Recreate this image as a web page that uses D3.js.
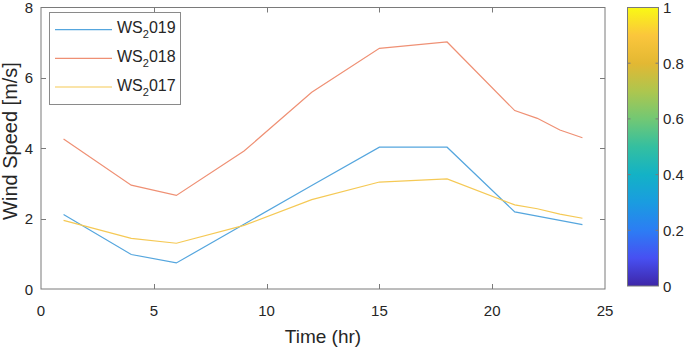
<!DOCTYPE html>
<html><head><meta charset="utf-8">
<script src="https://cdn.jsdelivr.net/npm/d3@7"></script>
<style>
html,body{margin:0;padding:0;background:#fff;}
svg{display:block;font-family:"Liberation Sans",Arial,sans-serif;}
</style></head>
<body><svg id="c" width="688" height="349"></svg>
<script>
const hours = [1,4,6,9,12,15,18,21,22,23,24];
const ws2019 = [2.12,0.98,0.74,1.84,2.94,4.03,4.03,2.19,2.07,1.95,1.83];
const ws2018 = [4.26,2.95,2.66,3.92,5.59,6.84,7.02,5.07,4.85,4.52,4.30];
const ws2017 = [1.95,1.44,1.30,1.81,2.54,3.04,3.13,2.39,2.28,2.13,2.01];
const seriesNames = ["2019","2018","2017"];
const seriesColors = ["#55A6DE","#EF9074","#F5C955"];
const xTicks = [0,5,10,15,20,25];
const yTicks = [0,2,4,6,8];
const cbTicks = [0,0.2,0.4,0.6,0.8,1];
const parulaStops = ["#3E26A8","#4750F2","#2C7DF4","#1A9CE0","#13B2C6","#34BFA0","#72C874","#AEC64E","#E3B833","#FBC63C","#F9F914"];

const svg = d3.select("#c");
const L=41, R=605, T=7.5, B=289;
const x = d3.scaleLinear().domain([0,25]).range([L,R]);
const y = d3.scaleLinear().domain([0,8]).range([B,T]);
const axisCol="#7a7a7a", textCol="#262626";

// box
svg.append("rect").attr("x",L).attr("y",T).attr("width",R-L).attr("height",B-T)
  .attr("fill","none").attr("stroke",axisCol).attr("stroke-width",1);

// ticks
const tl=5;
xTicks.forEach(t=>{
  const px=Math.round(x(t))+0.5;
  if(t>0 && t<25){
    svg.append("line").attr("x1",px).attr("x2",px).attr("y1",B).attr("y2",B-tl).attr("stroke",axisCol);
    svg.append("line").attr("x1",px).attr("x2",px).attr("y1",T).attr("y2",T+tl).attr("stroke",axisCol);
  }
  svg.append("text").attr("x",x(t)).attr("y",315.5).attr("text-anchor","middle")
    .attr("font-size",15).attr("fill",textCol).text(t);
});
yTicks.forEach(t=>{
  const py=Math.round(y(t))+0.5;
  if(t>0 && t<8){
    svg.append("line").attr("x1",L).attr("x2",L+tl).attr("y1",py).attr("y2",py).attr("stroke",axisCol);
    svg.append("line").attr("x1",R).attr("x2",R-tl).attr("y1",py).attr("y2",py).attr("stroke",axisCol);
  }
  svg.append("text").attr("x",33).attr("y",y(t)+5.5).attr("text-anchor","end")
    .attr("font-size",15).attr("fill",textCol).text(t);
});

// labels
svg.append("text").attr("x",(L+R)/2).attr("y",343).attr("text-anchor","middle")
  .attr("font-size",19).attr("fill",textCol).text("Time (hr)");
svg.append("text").attr("transform","translate(17,141) rotate(-90)").attr("text-anchor","middle")
  .attr("font-size",20).attr("fill",textCol).text("Wind Speed [m/s]");

// lines
const seriesData=[ws2019,ws2018,ws2017];
const line=d3.line().x((d,i)=>x(hours[i])).y(d=>y(d));
seriesData.forEach((s,k)=>{
  svg.append("path").attr("d",line(s)).attr("fill","none")
    .attr("stroke",seriesColors[k]).attr("stroke-width",1.2);
});

// legend
const lg=svg.append("g");
lg.append("rect").attr("x",49.5).attr("y",12.5).attr("width",131).attr("height",92)
  .attr("fill","#fff").attr("stroke","#8a8a8a").attr("stroke-width",1);
const ly=[29.7,58.3,87];
seriesNames.forEach((n,k)=>{
  lg.append("line").attr("x1",55).attr("x2",112).attr("y1",ly[k]).attr("y2",ly[k])
    .attr("stroke",seriesColors[k]).attr("stroke-width",1.2);
  const t=lg.append("text").attr("x",117).attr("y",ly[k]+3.5).attr("font-size",16).attr("fill",textCol);
  t.append("tspan").text("WS");
  t.append("tspan").attr("font-size",11).attr("dy",5).text("2");
  t.append("tspan").attr("dy",-5).text(n.slice(1));
});

// colorbar
const cbL=627.5, cbR=658.5, cbT=7.5, cbB=286;
const defs=svg.append("defs");
const grad=defs.append("linearGradient").attr("id","parula").attr("x1",0).attr("y1",1).attr("x2",0).attr("y2",0);
parulaStops.forEach((c,i)=>grad.append("stop").attr("offset",i/(parulaStops.length-1)).attr("stop-color",c));
svg.append("rect").attr("x",cbL).attr("y",cbT).attr("width",cbR-cbL).attr("height",cbB-cbT)
  .attr("fill","url(#parula)").attr("stroke",axisCol).attr("stroke-width",1);
const cy=d3.scaleLinear().domain([0,1]).range([cbB,cbT]);
cbTicks.forEach(t=>{
  if(t>0&&t<1){
    svg.append("line").attr("x1",cbR).attr("x2",cbR-3).attr("y1",cy(t)).attr("y2",cy(t)).attr("stroke",axisCol);
    svg.append("line").attr("x1",cbL).attr("x2",cbL+3).attr("y1",cy(t)).attr("y2",cy(t)).attr("stroke",axisCol);
  }
  svg.append("text").attr("x",663).attr("y",cy(t)+5.5).attr("font-size",15).attr("fill",textCol).text(t);
});
</script></body></html>
